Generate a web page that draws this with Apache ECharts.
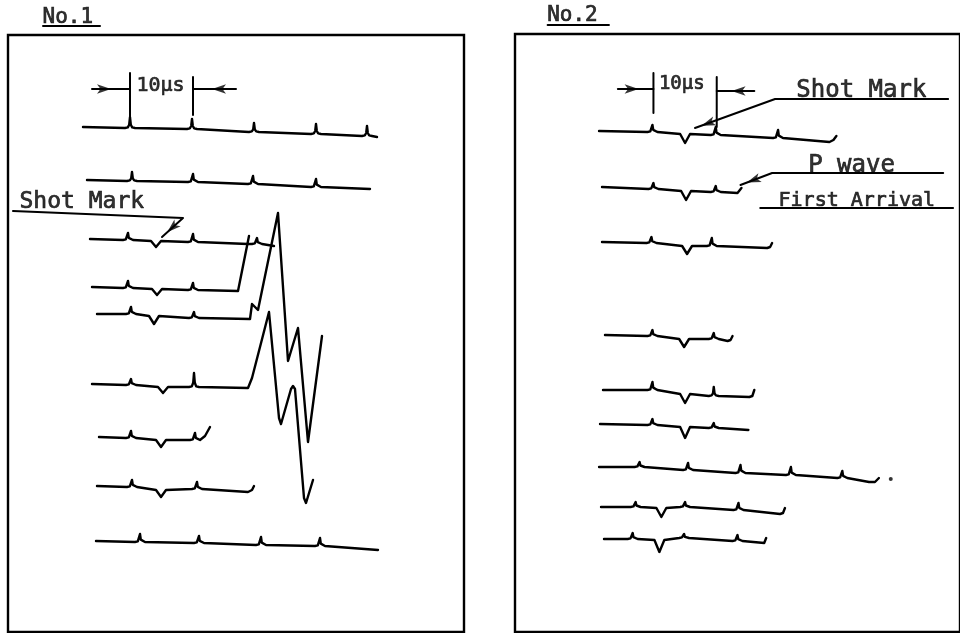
<!DOCTYPE html>
<html><head><meta charset="utf-8">
<script src="https://cdn.jsdelivr.net/npm/echarts@6/dist/echarts.min.js"></script>
<style>html,body{margin:0;padding:0;background:#fff}#c{width:960px;height:633px}</style>
</head><body><div id="c"></div>
<script>
// Trace notation: [x,y] plain vertex; ['^',x,base,top] timing mark; ['v',x,base,bottom] shot mark
// ---- Panel No.1 ----
const p1Trace1 = [[83,127],['^',130,128,117],['^',192,129,119],['^',254,132,123],['^',316,134,124],['^',367,136,126],[377,137]];
const p1Trace2 = [[87,180],['^',132,181,172],['^',193,182,174],['^',253,184,176],['^',316,187,179],[370,189]];
const p1Trace3 = [[90,239],['^',128,240,233],['v',156,241,247],['^',193,242,234],[248,244],['^',257,244,238],[274,246]];
const p1Trace4 = [[92,287],['^',128,288,281],['v',157,289,295],['^',193,290,283],[238,291],[249,236]];
const p1Trace5 = [[97,314],['^',131,314,307],['v',154,316,324],['^',194,318,312],[250,319],[252,304],[254,303],[258,310],[278,213],[288,361],[298,328],[308,442],[322,336]];
const p1Trace6 = [[92,384],['^',131,385,379],['v',163,387,393],['^',194,387,373],[248,388],[252,378],[260,347],[269,312],[279,418],[281,424],[283,422],[291,389],[293,386],[295,389],[304,498],[306,503],[308,501],[313,480]];
const p1Trace7 = [[99,437],['^',131,438,431],['v',161,440,447],['^',195,440,433],[200,440],[205,436],[210,427]];
const p1Trace8 = [[97,486],['^',132,487,480],['v',161,490,497],['^',197,489,482],[248,492],[252,490],[254,486]];
const p1Trace9 = [[96,541],['^',140,542,534],['^',199,543,536],['^',261,545,537],['^',320,546,538],[378,550]];
const p1Traces = [p1Trace1,p1Trace2,p1Trace3,p1Trace4,p1Trace5,p1Trace6,p1Trace7,p1Trace8,p1Trace9];

// ---- Panel No.2 ----
const p2TraceA = [[600,131],['^',654,132,125],['v',687,134,143],['^',718,135,127],['^',781,138,130],[833,142],[837,140],[840,136]];
const p2TraceB = [[603,187],['^',655,189,183],['v',688,191,200],['^',718,192,186],[740,193],[742,192],[744,188]];
const p2TraceC = [[603,242],['^',653,243,237],['v',689,246,254],['^',714,246,238],[770,248],[773,247],[775,243]];
const p2TraceD = [[606,335],['^',654,336,330],['v',686,339,347],['^',716,339,333],[730,341],[733,340],[735,336]];
const p2TraceE = [[604,390],['^',654,390,382],['v',687,394,403],['^',716,396,387],[752,397],[755,396],[757,390]];
const p2TraceF = [[601,424],['^',654,425,419],['v',687,427,438],['^',716,428,423],[751,430]];
const p2TraceG = [[600,467],['^',641,467,462],['^',690,470,463],['^',743,473,465],['^',794,475,467],['^',846,478,471],[873,482],[879,482],[883,478]];
const p2TraceH = [[602,507],['^',637,507,502],['v',663,508,517],['^',687,507,502],['^',741,510,503],[783,514],[786,513],[788,508]];
const p2TraceI = [[605,539],['^',634,539,533],['v',661,540,552],['^',686,538,534],['^',740,541,535],[767,543],[769,538]];
const p2Traces = [p2TraceA,p2TraceB,p2TraceC,p2TraceD,p2TraceE,p2TraceF,p2TraceG,p2TraceH,p2TraceI];
const p2Dot = [[895,479]];

// ---- Annotations ----
const p1Scale = [[[92,89],[130,89]],[[130,73],[130,117]],[[193,77],[193,115]],[[193,89],[236,89]]];
const p2Scale = [[[619,89],[655,89]],[[655,73],[655,113]],[[719,77],[719,127]],[[719,91],[757,91]]];
const p1Leaders = [[[13,211],[183,218],[162,237]]];
const p2Leaders = [[[953,99],[778,99],[697,128]],[[948,173],[775,173],[743,185]],[[763,208],[958,208]]];
const p1Underline = [[43,26],[100,26]];
const p2Underline = [[548,25],[610,25]];
// arrowheads: [tipX, tipY, fromX, fromY]
const p1Arrows = [[118,89,92,89],[205,89,236,89],[162,237,183,218]];
const p2Arrows = [[647,89,619,89],[727,91,757,91],[697,128,778,99],[743,185,775,173]];
// labels: [text, x, y, fontSize]
const p1Labels = [['No.1',43,18,21],['10µs',137,86,20],['Shot Mark',20,203,23]];
const p2Labels = [['No.2',548,16,21],['10µs',661,85,19],['Shot Mark',800,91,24],['P wave',812,166,24],['First Arrival',782,201,20]];

function expand(tr){
  const out=[];
  for(const p of tr){
    if(p[0]==='^'){const x=p[1],b=p[2],t=p[3],h=b-t;
      out.push([x-5,b],[x-2.2,b-0.6],[x-0.8,b-h*0.3],[x,t],[x+0.8,b-h*0.3],[x+2.2,b-0.6],[x+5,b]);}
    else if(p[0]==='v'){const x=p[1],b=p[2],m=p[3];out.push([x-5,b],[x,m],[x+5,b]);}
    else out.push(p);
  }
  return out;
}
const series=[];
function addLine(idx,data,width,clip){
  series.push({type:'line',xAxisIndex:idx,yAxisIndex:idx,data:data,symbol:'none',clip:!!clip,
    lineStyle:{color:'#000',width:width,join:'round',cap:'round'},silent:true,animation:false,z:3});
}
function addArrows(idx,arr){
  const L=14;
  series.push({type:'scatter',xAxisIndex:idx,yAxisIndex:idx,symbol:'arrow',symbolSize:[7,L],silent:true,animation:false,z:4,
    itemStyle:{color:'#000'},
    data:arr.map(a=>{const dx=a[0]-a[2],dy=a[1]-a[3],len=Math.hypot(dx,dy);
      const ux=dx/len,uy=dy/len;
      const rot=Math.atan2(-dy,dx)*180/Math.PI-90;
      return {value:[a[0]-ux*L/2,a[1]-uy*L/2],symbolRotate:rot};})});
}
function addLabels(idx,arr){
  series.push({type:'scatter',xAxisIndex:idx,yAxisIndex:idx,symbolSize:1,clip:false,silent:true,animation:false,z:5,
    itemStyle:{color:'rgba(0,0,0,0)'},
    data:arr.map(l=>({name:l[0],value:[l[1],l[2]],label:{show:true,formatter:l[0],position:[0,0],align:'left',verticalAlign:'middle',
      color:'#000',fontFamily:'DejaVu Sans Mono',fontSize:l[3],textBorderColor:'#000',textBorderWidth:0.7}}))});
}
p1Traces.forEach(t=>addLine(0,expand(t),2.4));
p2Traces.forEach(t=>addLine(1,expand(t),2.4));
p1Scale.forEach(s=>addLine(0,s,2));
p2Scale.forEach(s=>addLine(1,s,2));
p1Leaders.forEach(s=>addLine(0,s,2));
p2Leaders.forEach(s=>addLine(1,s,2));
addLine(0,p1Underline,2,false);
addLine(1,p2Underline,2,false);
addArrows(0,p1Arrows);
addArrows(1,p2Arrows);
series.push({type:'scatter',xAxisIndex:1,yAxisIndex:1,data:p2Dot,symbolSize:4,itemStyle:{color:'#000'},silent:true,animation:false});
addLabels(0,p1Labels);
addLabels(1,p2Labels);

const chart=echarts.init(document.getElementById('c'),null,{renderer:'canvas'});
chart.setOption({
  backgroundColor:'#fff',
  animation:false,
  grid:[
    {left:8,top:35,width:456,height:597,show:true,borderColor:'#000',borderWidth:2.4,backgroundColor:'transparent'},
    {left:515,top:34,width:450,height:598,show:true,borderColor:'#000',borderWidth:2.4,backgroundColor:'transparent'}
  ],
  xAxis:[
    {type:'value',gridIndex:0,min:8,max:464,show:false},
    {type:'value',gridIndex:1,min:515,max:965,show:false}
  ],
  yAxis:[
    {type:'value',gridIndex:0,min:35,max:632,inverse:true,show:false},
    {type:'value',gridIndex:1,min:34,max:632,inverse:true,show:false}
  ],
  series:series
});
</script></body></html>
